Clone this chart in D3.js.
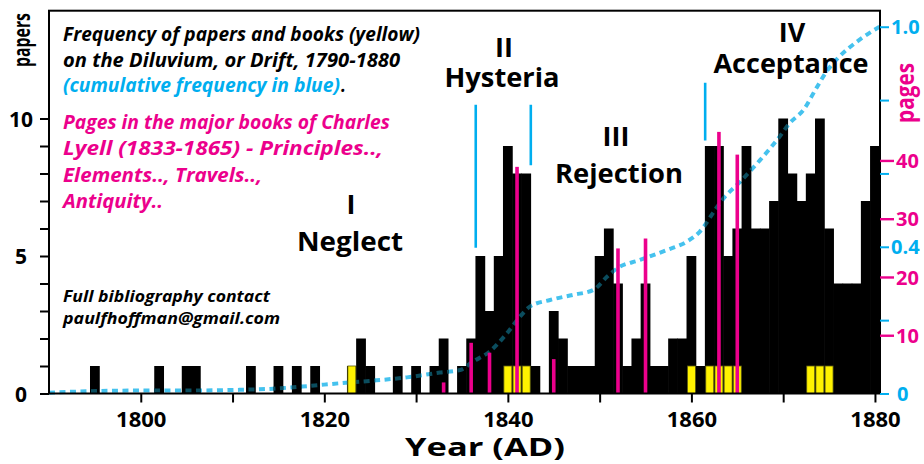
<!DOCTYPE html>
<html>
<head>
<meta charset="utf-8">
<script src="https://cdn.jsdelivr.net/npm/d3@7"></script>
<style>
  body { margin: 0; background: #fff; }
  text { font-family: "Open Sans", "Noto Sans", sans-serif; font-weight: 700; }
</style>
</head>
<body>
<div id="chart"></div>
<script>
// papers + books per year (years with zero left out)
const paperYears  = [1795,1802,1805,1806,1812,1815,1817,1819,1823,1824,1825,1828,1830,1832,1833,1835,1836,1837,1838,1839,
                     1840,1841,1842,1843,1845,1846,1847,1848,1849,1850,1851,1852,1853,1854,1855,1856,1857,1858,1859,
                     1860,1861,1862,1863,1864,1865,1866,1867,1868,1869,1870,1871,1872,1873,1874,1875,1876,1877,1878,1879,1880];
const paperCounts = [1,1,1,1,1,1,1,1,1,2,1,1,1,1,2,1,2,5,3,5,
                     9,8,8,1,3,2,1,1,1,5,6,4,1,2,4,1,1,2,2,
                     5,1,9,9,5,6,9,6,6,7,10,8,7,8,10,6,4,4,4,7,9];
// books (yellow)
const bookYears  = [1823,1840,1841,1842,1860,1862,1863,1864,1865,1873,1874,1875];
const bookCounts = [1,1,1,1,1,1,1,1,1,1,1,1];
// Lyell pages (pink)
const lyellYears = [1833,1836,1838,1841,1845,1852,1855,1863,1865];
const lyellPages = [1.9,8.7,7,38.9,5.9,24.9,26.6,44.9,41];
// cumulative frequency (blue dotted)
const cumYears  = [1790,1795.6,1799.9,1804.3,1810.8,1814.4,1818.1,1821.7,1825.3,1829,1832.6,1834.8,1836.2,1838,1839.9,
                   1841.3,1842.4,1844.6,1847.1,1849.3,1850.8,1851.9,1854.4,1857.3,1859.5,1860.9,1862.7,1863.5,1865.3,
                   1867.5,1869.6,1870.7,1872.2,1873.6,1874.7,1876.1,1878.3,1880.5];
const cumValues = [0.002,0.007,0.008,0.008,0.010,0.013,0.020,0.028,0.035,0.044,0.057,0.064,0.087,0.114,0.164,
                   0.209,0.237,0.255,0.269,0.282,0.318,0.341,0.364,0.391,0.414,0.441,0.505,0.532,0.577,
                   0.637,0.700,0.737,0.773,0.832,0.877,0.918,0.964,1.0];
// phase boundary marks (blue vertical lines), in papers units
const phaseLineYears = [1836.5, 1842.5, 1861.5];
const phaseLineFrom  = [5.3, 8.3, 9.2];
const phaseLineTo    = [10.5, 10.5, 11.3];
const phaseNumerals  = ["I", "II", "III", "IV"];
const phaseNames     = ["Neglect", "Hysteria", "Rejection", "Acceptance"];

const xTicks = [1800,1810,1820,1830,1840,1850,1860,1870,1880];
const xLabels = [1800,1820,1840,1860,1880];
const paperTicks = [0,1,2,3,4,5,6,7,8,9,10];
const paperLabels = [0,5,10];
const pageTicks = [10,20,30,40];
const cumTicks = [0,0.2,0.4,0.6,0.8,1.0];
const cumLabels = [0,0.4,1.0];

const W = 924, H = 464;
const pLeft = 49, pRight = 880, pTop = 10.7, pBottom = 393.5;
const BLUE = "#00aeef", CURVE = "#45c2ee", DARKCURVE = "#0b4d5e", PINK = "#ec008c", YELLOW = "#fff200";

const svg = d3.select("#chart").append("svg")
    .attr("width", W).attr("height", H);

const x = d3.scaleLinear().domain([1790, 1880.55]).range([pLeft, pRight]);
const yPapers = d3.scaleLinear().domain([0, 13.92]).range([pBottom, pTop]);
const yPages = d3.scaleLinear().domain([0, 65.7]).range([pBottom, pTop]);
const yCum = d3.scaleLinear().domain([0, 1.0437]).range([pBottom, pTop]);

const fit = (sel, w) => sel.attr("textLength", w).attr("lengthAdjust", "spacingAndGlyphs");

const papers = paperYears.map((d, i) => ({ year: d, n: paperCounts[i] }));
const books = bookYears.map((d, i) => ({ year: d, n: bookCounts[i] }));
const cum = cumYears.map((d, i) => ({ year: d, v: cumValues[i] }));

// bars overlap a little so no seams show between neighbours
const barX = d => x(d.year - 0.5) - 0.3;
const barW = d => x(d.year + 0.5) - x(d.year - 0.5) + 0.6;

// clip for the darker part of the curve that shows through black bars
svg.append("clipPath").attr("id", "barclip")
  .selectAll("rect").data(papers).enter().append("rect")
    .attr("x", barX)
    .attr("y", d => yPapers(d.n))
    .attr("width", barW)
    .attr("height", d => pBottom - yPapers(d.n));

const line = d3.line()
    .x(d => x(d.year))
    .y(d => yCum(d.v))
    .curve(d3.curveMonotoneX);

svg.append("path")
    .attr("d", line(cum))
    .attr("fill", "none")
    .attr("stroke", CURVE)
    .attr("stroke-width", 4)
    .attr("stroke-dasharray", "6,4.5");

// black bars
svg.append("g").selectAll("rect")
    .data(papers).enter().append("rect")
    .attr("x", barX)
    .attr("y", d => yPapers(d.n))
    .attr("width", barW)
    .attr("height", d => pBottom - yPapers(d.n))
    .attr("fill", "#000");

svg.append("path")
    .attr("d", line(cum))
    .attr("fill", "none")
    .attr("stroke", DARKCURVE)
    .attr("stroke-width", 4)
    .attr("stroke-dasharray", "6,4.5")
    .attr("clip-path", "url(#barclip)");

// yellow books
svg.append("g").selectAll("rect")
    .data(books).enter().append("rect")
    .attr("x", d => x(d.year - 0.5) + 0.6)
    .attr("y", d => yPapers(d.n))
    .attr("width", d => x(d.year + 0.5) - x(d.year - 0.5) - 1.2)
    .attr("height", d => pBottom - yPapers(d.n))
    .attr("fill", YELLOW)
    .attr("stroke", "#5a5a10")
    .attr("stroke-width", 0.8);

// Lyell pages
svg.append("g").selectAll("rect")
    .data(lyellYears).enter().append("rect")
    .attr("x", d => x(d) - 1.8)
    .attr("y", (d, i) => yPages(lyellPages[i]))
    .attr("width", 3.6)
    .attr("height", (d, i) => pBottom - yPages(lyellPages[i]))
    .attr("fill", PINK);

// phase lines
svg.append("g").selectAll("line")
    .data(phaseLineYears).enter().append("line")
    .attr("x1", d => x(d)).attr("x2", d => x(d))
    .attr("y1", (d, i) => yPapers(phaseLineFrom[i]))
    .attr("y2", (d, i) => yPapers(phaseLineTo[i]))
    .attr("stroke", BLUE)
    .attr("stroke-width", 2.6);

// frame
svg.append("rect")
    .attr("x", pLeft).attr("y", pTop)
    .attr("width", pRight - pLeft).attr("height", pBottom - pTop)
    .attr("fill", "none").attr("stroke", "#000").attr("stroke-width", 2);

// x axis
const gx = svg.append("g")
    .attr("transform", `translate(0,${pBottom})`)
    .call(d3.axisBottom(x).tickValues(xTicks).tickSize(9)
        .tickFormat(d => xLabels.includes(d) ? d : ""))
    .call(g => g.select(".domain").remove());
gx.selectAll("line").attr("stroke", "#000").attr("stroke-width", 2);
gx.selectAll("text").attr("y", 33.5).attr("dy", null)
    .attr("fill", "#000").style("font-size", "22px");

// left axis
const gl = svg.append("g")
    .attr("transform", `translate(${pLeft},0)`)
    .call(d3.axisLeft(yPapers).tickValues(paperTicks).tickSize(9)
        .tickFormat(d => paperLabels.includes(d) ? d : ""))
    .call(g => g.select(".domain").remove());
gl.selectAll("line").attr("stroke", "#000").attr("stroke-width", 2);
gl.selectAll("text").attr("x", -28).attr("text-anchor", "middle")
    .attr("dy", "0.36em").attr("fill", "#000").style("font-size", "21px");

// right axis: pages (pink)
const gp = svg.append("g")
    .attr("transform", `translate(${pRight},0)`)
    .call(d3.axisRight(yPages).tickValues(pageTicks).tickSize(14))
    .call(g => g.select(".domain").remove());
gp.selectAll("line").attr("stroke", PINK).attr("stroke-width", 2.4);
gp.selectAll("text").attr("x", 16).attr("dy", "0.36em")
    .attr("fill", PINK).style("font-size", "20px");

// right axis: cumulative (blue)
const gc = svg.append("g")
    .attr("transform", `translate(${pRight},0)`)
    .call(d3.axisRight(yCum).tickValues(cumTicks).tickSize(9)
        .tickFormat(d => cumLabels.includes(d) ? (d === 0 ? "0" : d3.format(".1f")(d)) : ""))
    .call(g => g.select(".domain").remove());
gc.selectAll("line").attr("stroke", BLUE).attr("stroke-width", 2);
gc.selectAll("text").attr("x", 11).attr("dy", "0.36em")
    .attr("fill", BLUE).style("font-size", "20px");
gc.selectAll(".tick").filter(d => d === 0).select("text").attr("x", 17);

// vertical axis titles, squeezed with a scale so their boxes stay true
const vTitle = (txt, cx, cy, size, w, col) => {
  const t = svg.append("text")
      .attr("text-anchor", "middle")
      .attr("fill", col)
      .style("font-size", size + "px")
      .text(txt);
  const k = w / t.node().getComputedTextLength();
  t.attr("transform", `translate(${cx},${cy}) rotate(-90) scale(${k},1)`);
};
vTitle("papers", 30, 40, 24, 54, "#000");
vTitle("pages", 914, 93, 25, 60, PINK);

svg.append("text")
    .attr("x", 485).attr("y", 456)
    .attr("text-anchor", "middle")
    .style("font-size", "25px")
    .text("Year (AD)").call(fit, 160);

// annotations
const note = (txt, xx, yy, w, col, size) =>
  svg.append("text").attr("x", xx).attr("y", yy)
    .attr("fill", col).style("font-style", "italic").style("font-size", size + "px")
    .text(txt).call(fit, w);

note("Frequency of papers and books (yellow)", 63, 41, 357, "#000", 19);
note("on the Diluvium, or Drift, 1790-1880", 63, 66.5, 337, "#000", 19);
note("(cumulative frequency in blue)", 63, 92, 277, BLUE, 19);
note(".", 341, 92, 5, "#000", 19);
note("Pages in the major books of Charles", 63, 128.5, 327, PINK, 19);
note("Lyell (1833-1865) - Principles..,", 63, 155, 320, PINK, 19);
note("Elements.., Travels..,", 63, 181.5, 199, PINK, 19);
note("Antiquity..", 63, 208, 100, PINK, 19);
note("Full bibliography contact", 63, 301.7, 207, "#000", 16);
note("paulfhoffman@gmail.com", 63, 324, 217, "#000", 16);

// phase labels: numeral over name, one text each
const numPos = [[351, 214], [504, 57], [616, 146], [792, 41.7]];
const namePos = [[350, 251, 106], [502, 87, 115], [619, 183, 128], [791, 72.7, 155]];
phaseNames.forEach((t, i) => {
  const lab = svg.append("text").attr("text-anchor", "middle").style("font-size", "27px");
  lab.append("tspan").attr("x", numPos[i][0]).attr("y", numPos[i][1]).text(phaseNumerals[i]);
  lab.append("tspan").attr("x", namePos[i][0]).attr("y", namePos[i][1])
    .text(t).call(fit, namePos[i][2]);
});
</script>
</body>
</html>
